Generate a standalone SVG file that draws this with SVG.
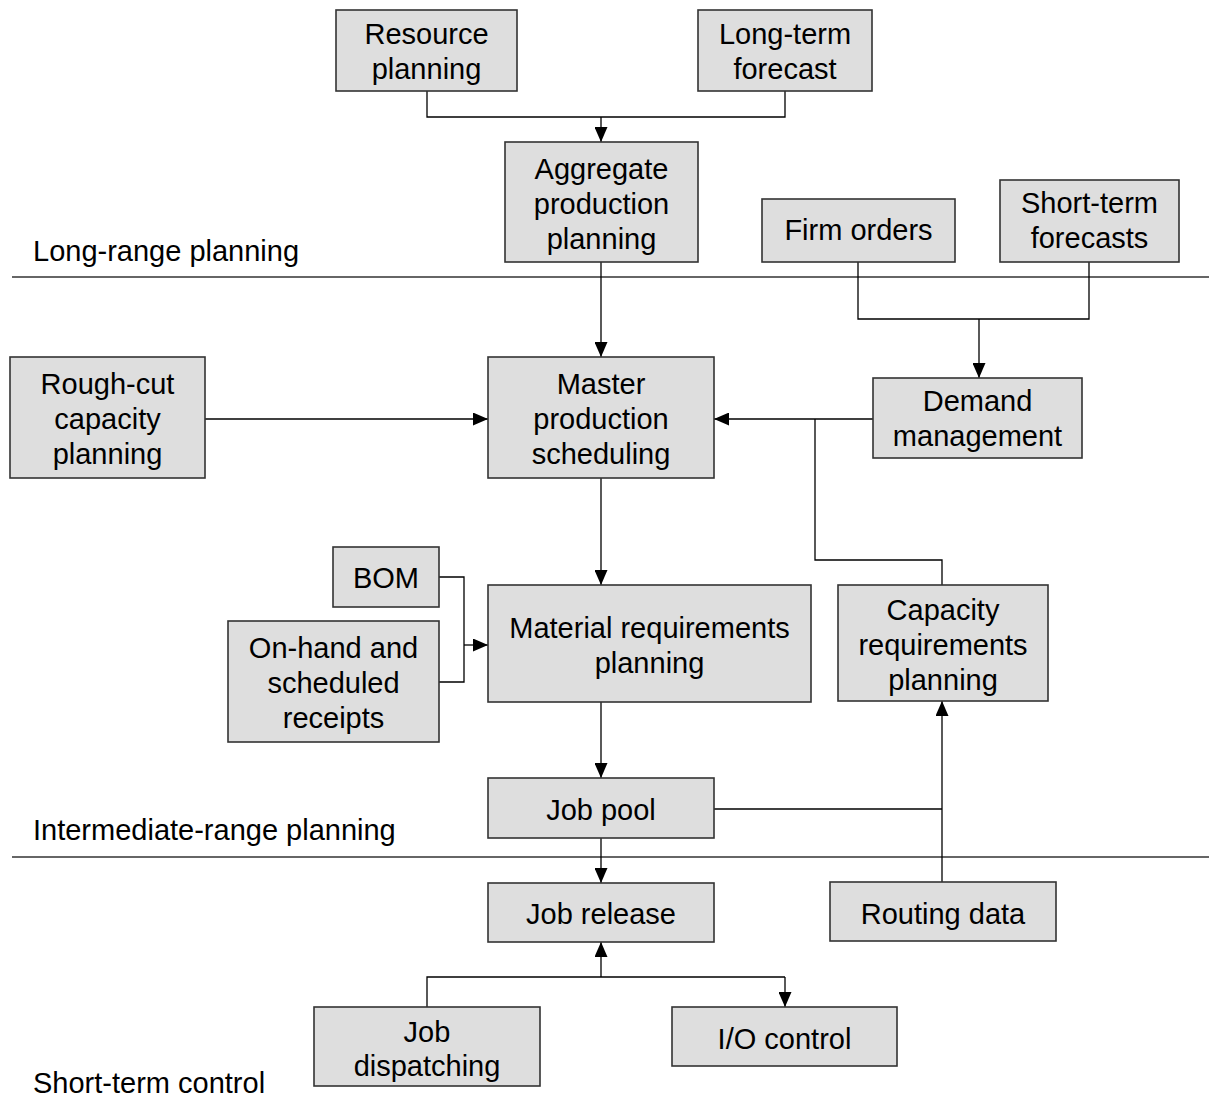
<svg xmlns="http://www.w3.org/2000/svg" width="1209" height="1104" viewBox="0 0 1209 1104">
  <style>
    .box { fill: #dedede; stroke: #333333; stroke-width: 1.6; }
    .t { font-family: "Liberation Sans", Arial, sans-serif; font-size: 29px; fill: #000000; text-anchor: middle; }
    .lbl { font-family: "Liberation Sans", Arial, sans-serif; font-size: 29px; fill: #000000; }
    .ln { fill: none; stroke: #000000; stroke-width: 1.3; }
    .rule { stroke: #333333; stroke-width: 1.3; }
  </style>
  <defs>
    <marker id="arr" viewBox="0 0 15 13" refX="15" refY="6.5" markerWidth="15" markerHeight="13" orient="auto" markerUnits="userSpaceOnUse">
      <path d="M0,0 L15,6.5 L0,13 z" fill="#000000"/>
    </marker>
  </defs>
  <rect width="1209" height="1104" fill="#ffffff"/>

  <!-- planning horizon bands -->
  <g id="bands">
    <line class="rule" x1="12" y1="277" x2="1209" y2="277"/>
    <line class="rule" x1="12" y1="857" x2="1209" y2="857"/>
    <text class="lbl" x="33" y="261">Long-range planning</text>
    <text class="lbl" x="33" y="840">Intermediate-range planning</text>
    <text class="lbl" x="33" y="1093">Short-term control</text>
  </g>

  <!-- connectors -->
  <g id="connectors">
    <polyline class="ln" points="427,91 427,117 785,117 785,91"/>
    <line class="ln" x1="601" y1="117" x2="601" y2="142" marker-end="url(#arr)"/>
    <line class="ln" x1="601" y1="262" x2="601" y2="357" marker-end="url(#arr)"/>
    <polyline class="ln" points="858,262 858,319 1089,319 1089,262"/>
    <line class="ln" x1="979" y1="319" x2="979" y2="378" marker-end="url(#arr)"/>
    <line class="ln" x1="205" y1="419" x2="488" y2="419" marker-end="url(#arr)"/>
    <line class="ln" x1="873" y1="419" x2="714" y2="419" marker-end="url(#arr)"/>
    <polyline class="ln" points="942,585 942,560 815,560 815,419"/>
    <line class="ln" x1="601" y1="478" x2="601" y2="585" marker-end="url(#arr)"/>
    <polyline class="ln" points="439,577 464,577 464,682 439,682"/>
    <line class="ln" x1="464" y1="645" x2="488" y2="645" marker-end="url(#arr)"/>
    <line class="ln" x1="601" y1="702" x2="601" y2="778" marker-end="url(#arr)"/>
    <line class="ln" x1="714" y1="809" x2="942" y2="809"/>
    <line class="ln" x1="942" y1="882" x2="942" y2="701" marker-end="url(#arr)"/>
    <line class="ln" x1="601" y1="838" x2="601" y2="883" marker-end="url(#arr)"/>
    <line class="ln" x1="601" y1="977" x2="601" y2="942" marker-end="url(#arr)"/>
    <polyline class="ln" points="427,1007 427,977 785,977"/>
    <line class="ln" x1="785" y1="977" x2="785" y2="1007" marker-end="url(#arr)"/>
  </g>

  <g id="resource-planning">
    <rect class="box" x="336" y="10" width="181" height="81"/>
    <text class="t" x="426.5" y="44">Resource</text>
    <text class="t" x="426.5" y="79">planning</text>
  </g>
  <g id="long-term-forecast">
    <rect class="box" x="698" y="10" width="174" height="81"/>
    <text class="t" x="785" y="44">Long-term</text>
    <text class="t" x="785" y="79">forecast</text>
  </g>
  <g id="aggregate-production-planning">
    <rect class="box" x="505" y="142" width="193" height="120"/>
    <text class="t" x="601.5" y="179">Aggregate</text>
    <text class="t" x="601.5" y="214">production</text>
    <text class="t" x="601.5" y="249">planning</text>
  </g>
  <g id="firm-orders">
    <rect class="box" x="762" y="199" width="193" height="63"/>
    <text class="t" x="858.5" y="240">Firm orders</text>
  </g>
  <g id="short-term-forecasts">
    <rect class="box" x="1000" y="180" width="179" height="82"/>
    <text class="t" x="1089.5" y="213">Short-term</text>
    <text class="t" x="1089.5" y="248">forecasts</text>
  </g>
  <g id="rough-cut-capacity-planning">
    <rect class="box" x="10" y="357" width="195" height="121"/>
    <text class="t" x="107.5" y="394">Rough-cut</text>
    <text class="t" x="107.5" y="429">capacity</text>
    <text class="t" x="107.5" y="464">planning</text>
  </g>
  <g id="master-production-scheduling">
    <rect class="box" x="488" y="357" width="226" height="121"/>
    <text class="t" x="601" y="394">Master</text>
    <text class="t" x="601" y="429">production</text>
    <text class="t" x="601" y="464">scheduling</text>
  </g>
  <g id="demand-management">
    <rect class="box" x="873" y="378" width="209" height="80"/>
    <text class="t" x="977.5" y="411">Demand</text>
    <text class="t" x="977.5" y="446">management</text>
  </g>
  <g id="bom">
    <rect class="box" x="333" y="547" width="106" height="60"/>
    <text class="t" x="386" y="588">BOM</text>
  </g>
  <g id="on-hand-scheduled-receipts">
    <rect class="box" x="228" y="621" width="211" height="121"/>
    <text class="t" x="333.5" y="658">On-hand and</text>
    <text class="t" x="333.5" y="693">scheduled</text>
    <text class="t" x="333.5" y="728">receipts</text>
  </g>
  <g id="material-requirements-planning">
    <rect class="box" x="488" y="585" width="323" height="117"/>
    <text class="t" x="649.5" y="638">Material requirements</text>
    <text class="t" x="649.5" y="673">planning</text>
  </g>
  <g id="capacity-requirements-planning">
    <rect class="box" x="838" y="585" width="210" height="116"/>
    <text class="t" x="943" y="620">Capacity</text>
    <text class="t" x="943" y="655">requirements</text>
    <text class="t" x="943" y="690">planning</text>
  </g>
  <g id="job-pool">
    <rect class="box" x="488" y="778" width="226" height="60"/>
    <text class="t" x="601" y="820">Job pool</text>
  </g>
  <g id="job-release">
    <rect class="box" x="488" y="883" width="226" height="59"/>
    <text class="t" x="601" y="924">Job release</text>
  </g>
  <g id="routing-data">
    <rect class="box" x="830" y="882" width="226" height="59"/>
    <text class="t" x="943" y="924">Routing data</text>
  </g>
  <g id="job-dispatching">
    <rect class="box" x="314" y="1007" width="226" height="79"/>
    <text class="t" x="427" y="1042">Job</text>
    <text class="t" x="427" y="1076">dispatching</text>
  </g>
  <g id="io-control">
    <rect class="box" x="672" y="1007" width="225" height="59"/>
    <text class="t" x="784.5" y="1049">I/O control</text>
  </g>
</svg>
